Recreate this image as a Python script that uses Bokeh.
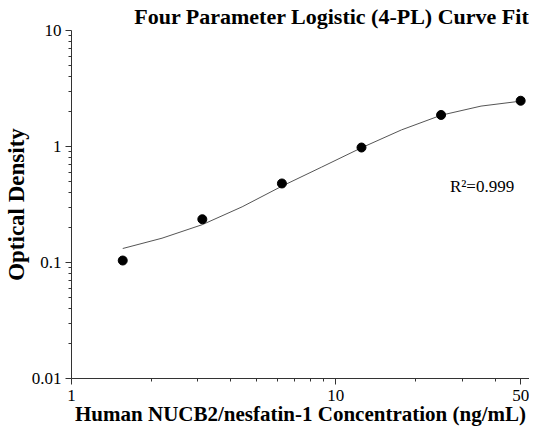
from bokeh.plotting import figure
from bokeh.models import FixedTicker, Label, Title
from bokeh.embed import file_html
from bokeh.resources import INLINE

# Measured standards
conc = [1.5625, 3.125, 6.25, 12.5, 25, 50]
od = [0.104, 0.236, 0.48, 0.98, 1.87, 2.48]

# Fitted 4-PL curve
curve_x = [1.5625, 2.2, 3.125, 4.42, 6.25, 8.84, 12.5, 17.7, 25, 35.4, 50]
curve_y = [0.132, 0.162, 0.212, 0.302, 0.455, 0.665, 0.975, 1.39, 1.86, 2.23, 2.46]

x_ticks = [1, 10, 50]
x_minor = [2, 3, 4, 5, 6, 7, 8, 9, 20, 30, 40]
y_ticks = [0.01, 0.1, 1, 10]
y_minor = [m * d for d in [0.01, 0.1, 1] for m in range(2, 10)]

title_text = "Four Parameter Logistic (4-PL) Curve Fit"
x_label = "Human NUCB2/nesfatin-1 Concentration (ng/mL)"
y_label = "Optical Density"
r2_text = "R\u00b2=0.999"

SERIF = "Liberation Serif"

p = figure(width=529, height=428, x_axis_type="log", y_axis_type="log",
           x_range=(1, 54), y_range=(0.01, 10),
           output_backend="svg", toolbar_location=None,
           min_border_left=69, min_border_right=0, min_border_top=30, min_border_bottom=49)
p.title = None
t = Title(text=title_text, align="right", offset=0, text_font=SERIF,
          text_font_size="22px", text_font_style="bold", text_color="black", standoff=3)
p.add_layout(t, "above")

p.outline_line_color = None
p.xgrid.visible = False
p.ygrid.visible = False

for ax in (p.xaxis[0], p.yaxis[0]):
    ax.major_label_text_font = SERIF
    ax.major_label_text_font_size = "17px"
    ax.major_label_text_color = "black"
    ax.axis_label_text_font = SERIF
    ax.axis_label_text_font_style = "bold"
    ax.axis_label_text_color = "black"
    ax.axis_line_color = "#333333"
    ax.major_tick_line_color = "#333333"
    ax.minor_tick_line_color = "#333333"
    ax.major_tick_out = 6
    ax.major_tick_in = 0
    ax.minor_tick_out = 3
    ax.minor_tick_in = 0

p.xaxis.axis_label_text_font_size = "21px"
p.yaxis.axis_label_text_font_size = "23px"
p.xaxis.major_label_standoff = 5
p.yaxis.major_label_standoff = 4
p.xaxis.ticker = FixedTicker(ticks=x_ticks, minor_ticks=x_minor)
p.yaxis.ticker = FixedTicker(ticks=y_ticks, minor_ticks=y_minor)
p.xaxis.major_label_overrides = {1: "1", 10: "10", 50: "50"}
p.yaxis.major_label_overrides = {0.01: "0.01", 0.1: "0.1", 1: "1", 10: "10"}
p.xaxis.axis_label = x_label
p.yaxis.axis_label = y_label
p.xaxis.axis_label_standoff = -2
p.yaxis.axis_label_standoff = 0

p.line(curve_x, curve_y, line_color="#555555", line_width=1)
p.scatter(conc, od, size=9, color="black")

p.add_layout(Label(x=27.0, y=0.455, text=r2_text, text_font=SERIF, text_font_size="17px",
                   text_color="black", text_baseline="middle", text_align="left"))

open("out.html", "w").write(file_html(p, INLINE))
